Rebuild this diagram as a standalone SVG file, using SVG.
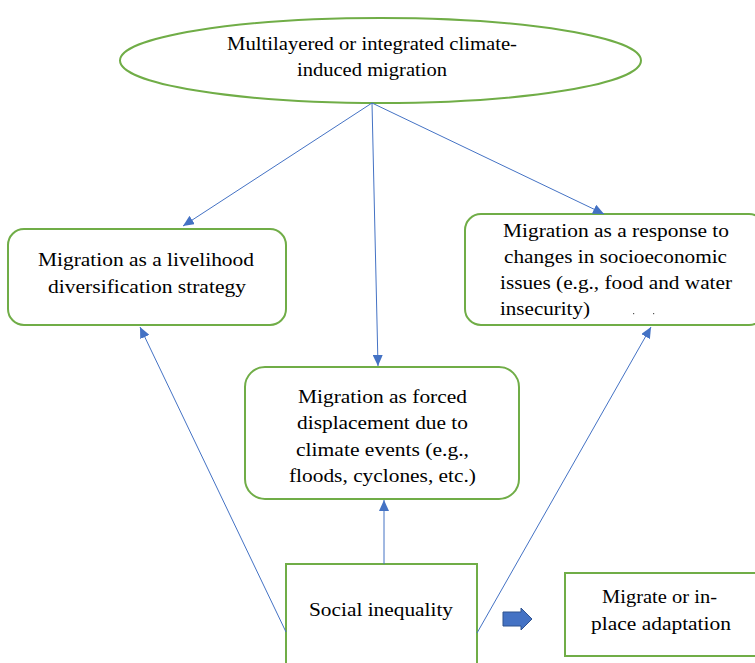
<svg xmlns="http://www.w3.org/2000/svg" width="755" height="663" viewBox="0 0 755 663">
  <style>
    .node { fill: #ffffff; stroke: #70AD47; stroke-width: 2; }
    .link { stroke: #4472C4; stroke-width: 1; fill: none; marker-end: url(#head); }
    text { font-family: "Times New Roman", Tinos, "Liberation Serif", "DejaVu Serif", "Noto Serif", serif; font-size: 19px; fill: #000000; }
  </style>
  <defs>
    <marker id="head" markerUnits="userSpaceOnUse" markerWidth="12" markerHeight="10" refX="11" refY="5" orient="auto">
      <path d="M0,0 L11,5 L0,10 Z" fill="#4472C4"/>
    </marker>
  </defs>

  <rect width="755" height="663" fill="#ffffff"/>

  <g id="top-node">
    <ellipse class="node" cx="380.5" cy="60.5" rx="260.5" ry="42.5"/>
    <text x="227" y="50" textLength="290" lengthAdjust="spacingAndGlyphs">Multilayered or integrated climate-</text>
    <text x="297" y="76" textLength="150" lengthAdjust="spacingAndGlyphs">induced migration</text>
  </g>

  <g id="livelihood">
    <rect class="node" x="8" y="229" width="278" height="96" rx="16"/>
    <text x="38" y="266" textLength="216" lengthAdjust="spacingAndGlyphs">Migration as a livelihood</text>
    <text x="48" y="293" textLength="198" lengthAdjust="spacingAndGlyphs">diversification strategy</text>
  </g>

  <g id="socioeconomic">
    <rect class="node" x="465" y="214" width="300" height="111" rx="16"/>
    <text x="503" y="237" textLength="226" lengthAdjust="spacingAndGlyphs">Migration as a response to</text>
    <text x="504" y="263" textLength="223" lengthAdjust="spacingAndGlyphs">changes in socioeconomic</text>
    <text x="500" y="289" textLength="232" lengthAdjust="spacingAndGlyphs">issues (e.g., food and water</text>
    <text x="500" y="315" textLength="90" lengthAdjust="spacingAndGlyphs">insecurity)</text>
    <rect x="633" y="313" width="1.2" height="1.2" fill="#555"/>
    <rect x="653" y="313" width="1.2" height="1.2" fill="#555"/>
  </g>

  <g id="forced">
    <rect class="node" x="245" y="367" width="274" height="132" rx="20"/>
    <text x="298" y="403" textLength="169" lengthAdjust="spacingAndGlyphs">Migration as forced</text>
    <text x="297" y="429" textLength="171" lengthAdjust="spacingAndGlyphs">displacement due to</text>
    <text x="296" y="456" textLength="173" lengthAdjust="spacingAndGlyphs">climate events (e.g.,</text>
    <text x="289" y="482" textLength="187" lengthAdjust="spacingAndGlyphs">floods, cyclones, etc.)</text>
  </g>

  <g id="inequality">
    <rect class="node" x="286" y="564" width="191" height="110"/>
    <text x="309" y="616" textLength="144" lengthAdjust="spacingAndGlyphs">Social inequality</text>
  </g>

  <g id="outcome">
    <rect class="node" x="565" y="573" width="200" height="83"/>
    <text x="602" y="603" textLength="115" lengthAdjust="spacingAndGlyphs">Migrate or in-</text>
    <text x="591" y="630" textLength="140" lengthAdjust="spacingAndGlyphs">place adaptation</text>
  </g>

  <g id="connectors">
    <line class="link" x1="372" y1="103" x2="183" y2="226"/>
    <line class="link" x1="372" y1="103" x2="378" y2="366"/>
    <line class="link" x1="372" y1="103" x2="604" y2="214"/>
    <line class="link" x1="384" y1="564" x2="384" y2="500"/>
    <line class="link" x1="286" y1="632" x2="140" y2="327"/>
    <line class="link" x1="477" y1="633" x2="651" y2="327"/>
    <path d="M503,612 L521,612 L521,608 L532,619 L521,630 L521,626 L503,626 Z" fill="#4472C4" stroke="#2F528F" stroke-width="1"/>
  </g>
</svg>
